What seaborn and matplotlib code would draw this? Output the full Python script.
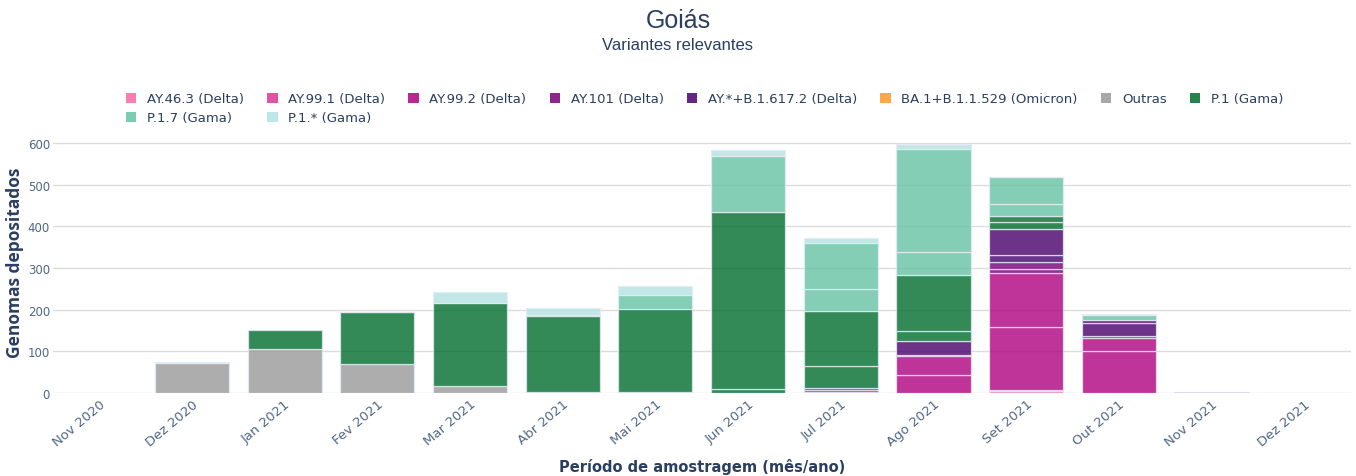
import numpy as np
import matplotlib
matplotlib.use("Agg")
import matplotlib.pyplot as plt
from matplotlib.patches import Patch
import seaborn as sns

# --------------------------
# Genomes per month, Goiás (each inner list = stacked sub-parts)
# --------------------------
months = ["Nov 2020", "Dez 2020", "Jan 2021", "Fev 2021", "Mar 2021", "Abr 2021", "Mai 2021",
          "Jun 2021", "Jul 2021", "Ago 2021", "Set 2021", "Out 2021", "Nov 2021", "Dez 2021"]

ay463 = [[], [], [], [], [], [], [], [], [], [], [5], [], [], []]
ay991 = [[], [], [], [], [], [], [], [], [3], [], [3], [], [], []]
ay992 = [[], [], [], [], [], [], [], [], [5], [44, 44], [150, 130], [100, 31], [], []]
ay101 = [[], [], [], [], [], [], [], [], [3], [4], [10, 16], [6], [], []]
ay_delta = [[], [], [], [], [], [], [], [], [], [33], [18, 62], [31, 8], [3], []]
ba1 = [[], [], [], [], [], [], [], [], [], [], [], [], [], [0]]
outras = [[], [72], [106], [70], [17], [3], [3], [], [], [], [], [], [], []]
p1 = [[0], [], [45], [124], [199], [181], [198], [9, 425], [55, 130], [24, 135], [16, 15], [], [], []]
p17 = [[], [], [], [], [], [4], [35], [136], [53, 112], [55, 247], [28, 65], [12], [], []]
p1x = [[], [2], [], [1], [26], [15], [20], [13], [11], [12], [2], [2], [], []]

names = ["AY.46.3 (Delta)", "AY.99.1 (Delta)", "AY.99.2 (Delta)", "AY.101 (Delta)",
         "AY.*+B.1.617.2 (Delta)", "BA.1+B.1.1.529 (Omicron)", "Outras", "P.1 (Gama)",
         "P.1.7 (Gama)", "P.1.* (Gama)"]
colors = ["#f768a1", "#dd3497", "#ae017e", "#7a0177", "#49006a", "#fe9929",
          "#999999", "#006d2c", "#66c2a4", "#b2e2e2"]
series = [ay463, ay991, ay992, ay101, ay_delta, ba1, outras, p1, p17, p1x]

# --------------------------
# Style
# --------------------------
sns.set_theme(style="white")
plt.rcParams["font.family"] = ["DejaVu Sans"]
txt = "#2a3f5f"
tick = "#506784"

fig = plt.figure(figsize=(13.56, 4.77), dpi=100)
ax = fig.add_axes([0.039, 0.174, 0.957, 0.549])

x = np.arange(len(months))
bottom = np.zeros(len(months))
for parts, color in zip(series, colors):
    depth = max(len(p) for p in parts)
    for k in range(depth):
        idx = [i for i, p in enumerate(parts) if len(p) > k]
        h = np.array([parts[i][k] for i in idx], dtype=float)
        ax.bar(x[idx], h, bottom=bottom[idx], width=0.8, color=color, alpha=0.8,
               edgecolor="#E5ECF6", linewidth=0.9, zorder=2)
        bottom[idx] += h

ax.set_xlim(-0.5, len(months) - 0.5)
ax.set_ylim(0, 629)
ax.set_yticks(range(0, 601, 100))
ax.yaxis.grid(True, color="#dcdcdc", linewidth=1, zorder=1)
ax.set_axisbelow(True)
for s in ax.spines.values():
    s.set_visible(False)
ax.tick_params(axis="both", length=0, labelcolor=tick)
ax.tick_params(axis="y", pad=2, labelsize=8.5)
ax.tick_params(axis="x", pad=3, labelsize=9.5)
ax.set_xticks(x)
ax.set_xticklabels(months, rotation=40, ha="right", rotation_mode="anchor")

ax.set_ylabel("Genomas depositados", fontsize=12.5, fontweight="bold", color=txt, labelpad=3,
              family=["Open Sans", "DejaVu Sans"])
ax.set_xlabel("Período de amostragem (mês/ano)", fontsize=10.5, fontweight="bold", color=txt,
              labelpad=7)

fig.text(0.5, 0.957, "Goiás", ha="center", va="center", fontsize=18, color=txt,
         family=["Liberation Sans", "DejaVu Sans"])
fig.text(0.5, 0.905, "Variantes relevantes", ha="center", va="center", fontsize=12, color=txt,
         family=["Liberation Sans", "DejaVu Sans"])

# matplotlib fills legend columns first: reorder so rows read like the reference
order = [0, 8, 1, 9, 2, 3, 4, 5, 6, 7]
handles = [Patch(facecolor=colors[i], alpha=0.85, edgecolor="none") for i in order]
leg = fig.legend(handles, [names[i] for i in order], ncol=8, loc="upper left",
                 bbox_to_anchor=(0.088, 0.818), frameon=False, fontsize=9.5,
                 handlelength=0.8, handleheight=0.8, handletextpad=0.8,
                 columnspacing=1.75, labelspacing=0.45, borderpad=0)
for t in leg.get_texts():
    t.set_color(txt)

plt.savefig("out.png", dpi=100)
